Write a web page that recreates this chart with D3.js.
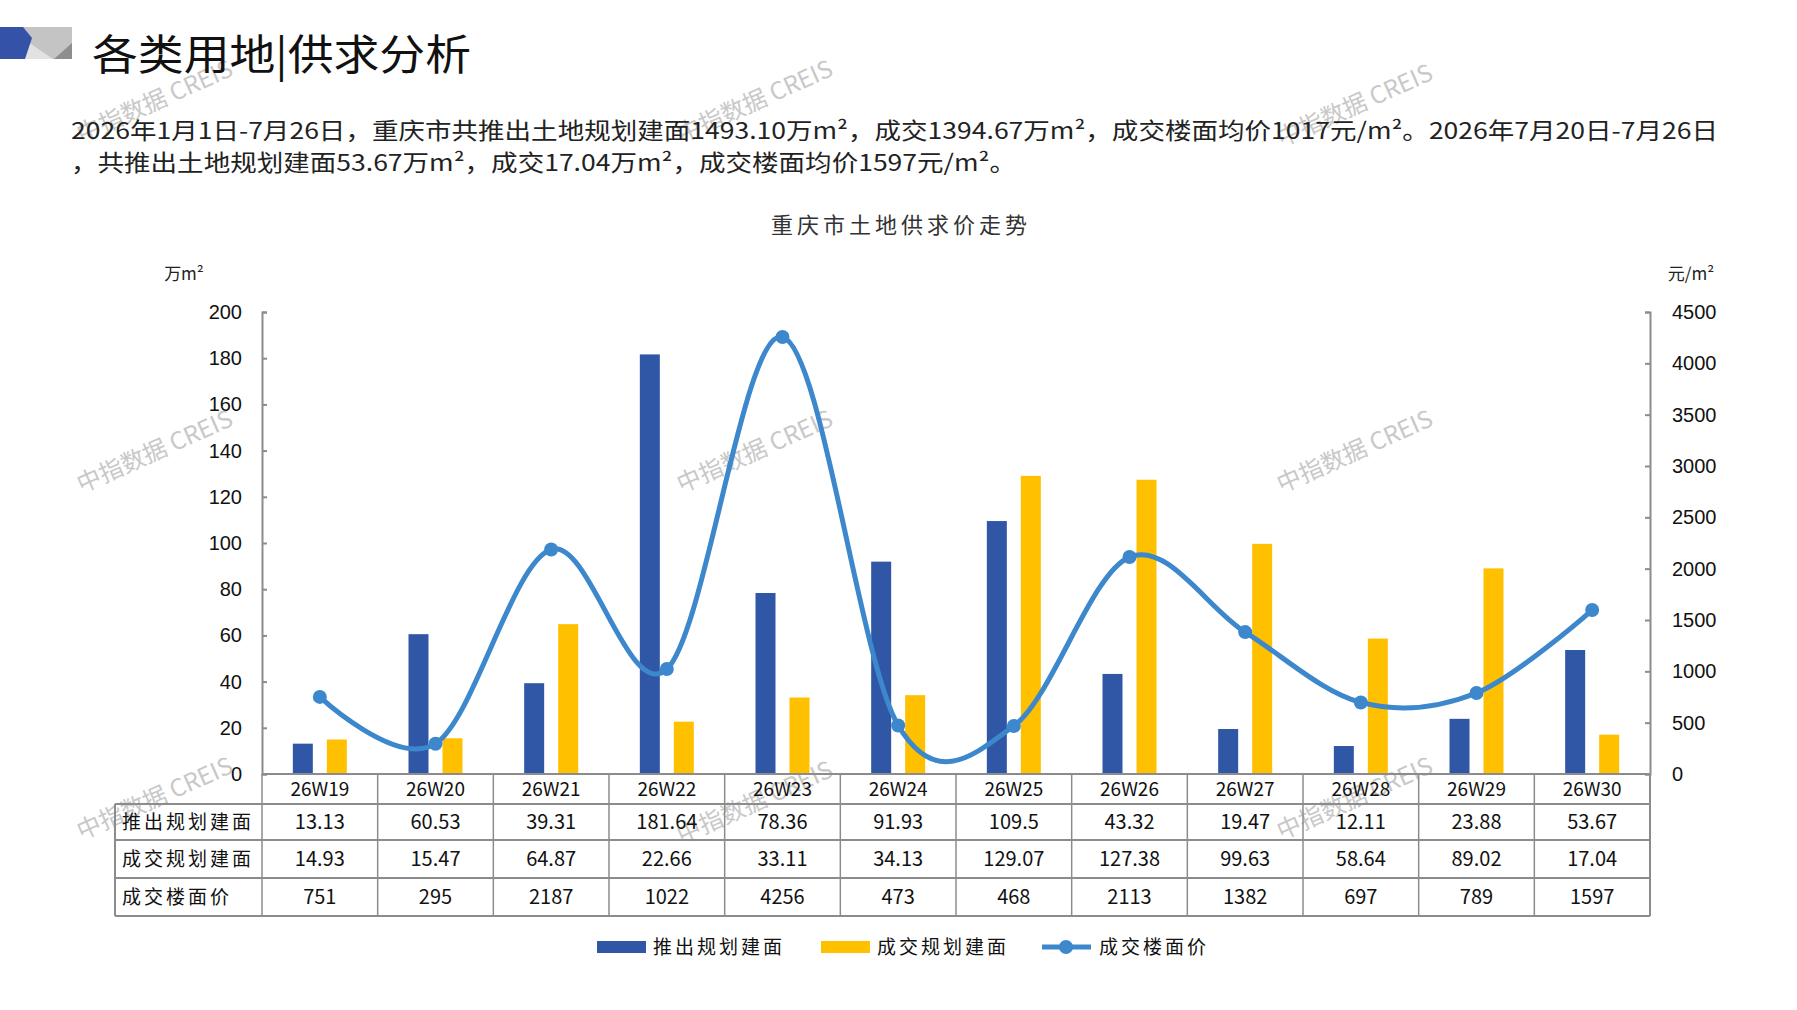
<!DOCTYPE html>
<html><head><meta charset="utf-8">
<script src="https://cdn.jsdelivr.net/npm/d3@7"></script>
<style>
html,body{margin:0;padding:0;background:#fff;}
svg{display:block;font-family:"Noto Sans CJK SC","Noto Sans",sans-serif;}
</style></head>
<body><svg id="c" width="1797" height="1010"></svg>
<script>
const categories = ["26W19","26W20","26W21","26W22","26W23","26W24","26W25","26W26","26W27","26W28","26W29","26W30"];
const supplyArea = [13.13,60.53,39.31,181.64,78.36,91.93,109.5,43.32,19.47,12.11,23.88,53.67];
const dealArea = [14.93,15.47,64.87,22.66,33.11,34.13,129.07,127.38,99.63,58.64,89.02,17.04];
const dealPrice = [751,295,2187,1022,4256,473,468,2113,1382,697,789,1597];
const supplyLabels = ["13.13","60.53","39.31","181.64","78.36","91.93","109.5","43.32","19.47","12.11","23.88","53.67"];
const dealLabels = ["14.93","15.47","64.87","22.66","33.11","34.13","129.07","127.38","99.63","58.64","89.02","17.04"];
const leftTicks = [0,20,40,60,80,100,120,140,160,180,200];
const rightTicks = [0,500,1000,1500,2000,2500,3000,3500,4000,4500];
const seriesNames = ["推出规划建面","成交规划建面","成交楼面价"];
const pageTitle = "各类用地|供求分析";
const para1 = "2026年1月1日-7月26日，重庆市共推出土地规划建面1493.10万m²，成交1394.67万m²，成交楼面均价1017元/m²。2026年7月20日-7月26日";
const para2 = "，共推出土地规划建面53.67万m²，成交17.04万m²，成交楼面均价1597元/m²。";
const chartTitle = "重庆市土地供求价走势";

const C_BLUE = "#2f57a6", C_YEL = "#ffc000", C_LINE = "#3d87cc", C_AX = "#8c8c8c";
const svg = d3.select("#c");

// watermarks
const wmPos = [[158,109],[758,109],[1358,113],[158,459],[758,459],[1358,459],[158,806],[758,810],[1358,806]];
wmPos.forEach(p => svg.append("text").attr("x",p[0]).attr("y",p[1]).attr("text-anchor","middle")
  .attr("transform",`rotate(-24 ${p[0]} ${p[1]})`).attr("font-size",24).attr("fill","#c8c8c8")
  .attr("font-family","'Noto Sans CJK SC',sans-serif").text("中指数据 CREIS"));

// logo
const logo = svg.append("g");
logo.append("rect").attr("x",23).attr("y",27).attr("width",49).attr("height",32).attr("fill","#c4c4c4");
logo.append("polygon").attr("points","28,42 53,59 24,59").attr("fill","#e2e2e2");
logo.append("polygon").attr("points","72,43 72,59 54,59").attr("fill","#8e8e8e");
logo.append("polygon").attr("points","0,27 23,27 32,38 25,59 0,59").attr("fill","#3453a8");

svg.append("text").attr("x",92).attr("y",70).attr("font-size",42).attr("fill","#111")
  .attr("textLength",379).attr("lengthAdjust","spacingAndGlyphs").text(pageTitle);

svg.append("text").attr("x",71).attr("y",139).attr("font-size",23).attr("fill","#222")
  .attr("textLength",1647).attr("lengthAdjust","spacingAndGlyphs").text(para1);
svg.append("text").attr("x",71).attr("y",171).attr("font-size",23).attr("fill","#222")
  .attr("textLength",945).attr("lengthAdjust","spacingAndGlyphs").text(para2);

svg.append("text").attr("x",901).attr("y",233).attr("text-anchor","middle").attr("font-size",22)
  .attr("fill","#333").attr("letter-spacing",4).text(chartTitle);

// scales
const L = 262, R = 1650, Y0 = 774, YT = 312;
const x = d3.scaleBand().domain(categories).range([L,R]).padding(0);
const yL = d3.scaleLinear().domain([0,200]).range([Y0,YT]);
const yR = d3.scaleLinear().domain([0,4500]).range([Y0,YT]);

svg.append("text").attr("x",184).attr("y",280).attr("text-anchor","middle").attr("font-size",17).attr("fill","#222").text("万m²");
svg.append("text").attr("x",1691).attr("y",280).attr("text-anchor","middle").attr("font-size",17).attr("fill","#222").text("元/m²");

const axL = svg.append("g").attr("transform",`translate(${L},0)`)
  .call(d3.axisLeft(yL).tickValues(leftTicks).tickFormat(d3.format("d")).tickSizeInner(-5).tickSizeOuter(-5).tickPadding(20));
const axR = svg.append("g").attr("transform",`translate(${R},0)`)
  .call(d3.axisRight(yR).tickValues(rightTicks).tickFormat(d3.format("d")).tickSizeInner(-5).tickSizeOuter(-5).tickPadding(22));
[axL,axR].forEach(a=>{
  a.selectAll("path,line").attr("stroke",C_AX).attr("stroke-width",2);
  a.selectAll("text").attr("font-size",20).attr("fill","#111").attr("font-family","'Liberation Sans',Arial,sans-serif");
});

// bars
const bw = 20, off = 17;
svg.append("g").selectAll("rect").data(supplyArea).join("rect")
  .attr("x",(d,i)=>x(categories[i])+x.bandwidth()/2-off-bw/2).attr("width",bw)
  .attr("y",d=>yL(d)).attr("height",d=>Y0-yL(d)).attr("fill",C_BLUE);
svg.append("g").selectAll("rect").data(dealArea).join("rect")
  .attr("x",(d,i)=>x(categories[i])+x.bandwidth()/2+off-bw/2).attr("width",bw)
  .attr("y",d=>yL(d)).attr("height",d=>Y0-yL(d)).attr("fill",C_YEL);

// line
const line = d3.line().x((d,i)=>x(categories[i])+x.bandwidth()/2).y(d=>yR(d)).curve(d3.curveCardinal.tension(0));
svg.append("path").datum(dealPrice).attr("d",line).attr("fill","none").attr("stroke",C_LINE).attr("stroke-width",5);
svg.append("g").selectAll("circle").data(dealPrice).join("circle")
  .attr("cx",(d,i)=>x(categories[i])+x.bandwidth()/2).attr("cy",d=>yR(d)).attr("r",7).attr("fill",C_LINE);

// table
const TL = 115;
const rowY = [774,804,840,878,916];
const tg = svg.append("g");
const gridC = "#8c8c8c";
tg.append("line").attr("x1",L).attr("x2",R).attr("y1",rowY[0]).attr("y2",rowY[0]).attr("stroke",gridC).attr("stroke-width",2);
[1,2,3,4].forEach(k=>tg.append("line").attr("x1",TL).attr("x2",R).attr("y1",rowY[k]).attr("y2",rowY[k]).attr("stroke",gridC).attr("stroke-width",2));
tg.append("line").attr("x1",TL).attr("x2",TL).attr("y1",rowY[1]).attr("y2",rowY[4]).attr("stroke",gridC).attr("stroke-width",2);
categories.forEach((c,i)=>tg.append("line").attr("x1",x(c)).attr("x2",x(c)).attr("y1",rowY[0]).attr("y2",rowY[4]).attr("stroke",gridC).attr("stroke-width",1.5));
tg.append("line").attr("x1",R).attr("x2",R).attr("y1",rowY[0]).attr("y2",rowY[4]).attr("stroke",gridC).attr("stroke-width",2);

categories.forEach((c,i)=>{
  const cx = x(c)+x.bandwidth()/2;
  tg.append("text").attr("x",cx).attr("y",(rowY[0]+rowY[1])/2+7).attr("text-anchor","middle").attr("font-size",19).attr("fill","#111").text(c);
  tg.append("text").attr("x",cx).attr("y",(rowY[1]+rowY[2])/2+7).attr("text-anchor","middle").attr("font-size",20).attr("fill","#111").text(supplyLabels[i]);
  tg.append("text").attr("x",cx).attr("y",(rowY[2]+rowY[3])/2+7).attr("text-anchor","middle").attr("font-size",20).attr("fill","#111").text(dealLabels[i]);
  tg.append("text").attr("x",cx).attr("y",(rowY[3]+rowY[4])/2+7).attr("text-anchor","middle").attr("font-size",20).attr("fill","#111").text(String(dealPrice[i]));
});
seriesNames.forEach((n,k)=>{
  tg.append("text").attr("x",122).attr("y",(rowY[k+1]+rowY[k+2])/2+7).attr("font-size",19).attr("fill","#111")
    .attr("letter-spacing",3).text(n);
});

// legend
const lg = svg.append("g");
lg.append("rect").attr("x",597).attr("y",941).attr("width",49).attr("height",12).attr("fill",C_BLUE);
lg.append("text").attr("x",653).attr("y",954).attr("font-size",19).attr("letter-spacing",3).attr("fill","#111").text(seriesNames[0]);
lg.append("rect").attr("x",821).attr("y",941).attr("width",49).attr("height",12).attr("fill",C_YEL);
lg.append("text").attr("x",877).attr("y",954).attr("font-size",19).attr("letter-spacing",3).attr("fill","#111").text(seriesNames[1]);
lg.append("line").attr("x1",1042).attr("x2",1091).attr("y1",947).attr("y2",947).attr("stroke",C_LINE).attr("stroke-width",5);
lg.append("circle").attr("cx",1066).attr("cy",947).attr("r",7).attr("fill",C_LINE);
lg.append("text").attr("x",1099).attr("y",954).attr("font-size",19).attr("letter-spacing",3).attr("fill","#111").text(seriesNames[2]);
</script></body></html>
